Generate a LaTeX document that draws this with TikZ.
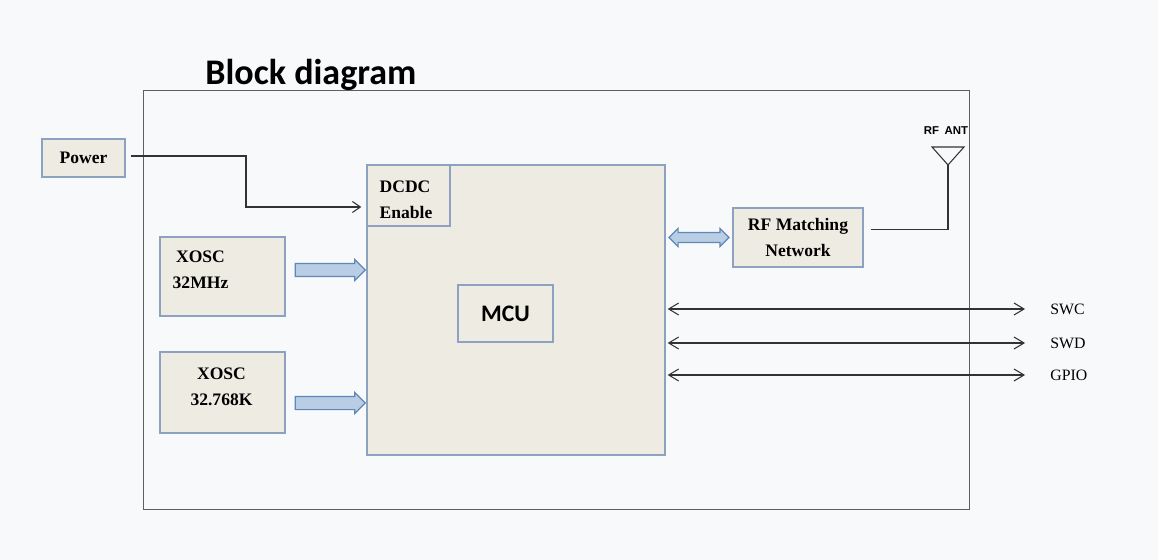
\documentclass[tikz,border=0pt]{standalone}
\usepackage{fontspec}
\setmainfont{Liberation Serif}
\newfontfamily\calibri{Carlito}
\newfontfamily\arial{Liberation Sans}
\usetikzlibrary{positioning,calc,shapes.arrows,arrows.meta}
\definecolor{boxfill}{RGB}{238,236,226}
\definecolor{boxline}{RGB}{140,162,192}
\definecolor{arrfill}{RGB}{185,205,229}
\definecolor{arrline}{RGB}{95,135,185}
\definecolor{bgcol}{RGB}{248,249,250}
\definecolor{framecol}{RGB}{95,95,95}
\def \Px {0.02cm}
\tikzstyle{block}=[
  draw=boxline,
  fill=boxfill,
  line width=0.8pt,
  inner sep=0pt,
  font=\bfseries\fontsize{10}{15}\selectfont,
  align=center
]
\tikzstyle{lbl}=[
  inner sep=0pt,
  font=\bfseries\fontsize{10}{15}\selectfont
]
\tikzstyle{fat}=[
  single arrow,
  draw=arrline,
  fill=arrfill,
  line width=0.7pt,
  inner sep=0pt,
  text height=0.24cm,
  text depth=0pt,
  minimum height=1.4cm,
  minimum width=0.4cm,
  single arrow head extend=0.08cm,
  single arrow head indent=0pt
]
\tikzstyle{fatboth}=[
  double arrow,
  draw=arrline,
  fill=arrfill,
  line width=0.7pt,
  inner sep=0pt,
  text height=0.18cm,
  text depth=0pt,
  minimum height=1.2cm,
  minimum width=0.34cm,
  double arrow head extend=0.08cm,
  double arrow head indent=0pt
]
\tikzstyle{wire}=[draw=black!80, line width=0.6pt]
\tikzstyle{pwr}=[-{Straight Barb[length=0.16cm,width=0.22cm]}]
\tikzstyle{sig}=[{Straight Barb[length=0.2cm,width=0.24cm]}-{Straight Barb[length=0.2cm,width=0.24cm]}]

\begin{document}
\begin{tikzpicture}[x=\Px, y=-\Px]
  \fill[bgcol] (0,0) rectangle (1158,560);
  \useasboundingbox (0,0) rectangle (1158,560);

  % board frame and title
  \node[draw=framecol, line width=0.6pt, inner sep=0pt,
        minimum width=16.54cm, minimum height=8.4cm] (board) at (556.5,300) {};
  \node[anchor=base west, inner sep=0pt,
        font=\calibri\bfseries\fontsize{20.5}{24}\selectfont] (title) at (205,85) {Block diagram};

  % blocks
  \node[block, minimum width=1.66cm, minimum height=0.76cm] (power) at (83.5,158) {Power};
  \node[block, minimum width=5.96cm, minimum height=5.8cm] (mcu) at (516,310) {};
  \node[block, minimum width=1.66cm, minimum height=1.22cm] (dcdc) at (408.5,195.5) {};
  \node[lbl, anchor=west, align=left] (dcdctxt) at ([shift={(13,4)}]dcdc.west) {DCDC\\Enable};
  \node[block, minimum width=1.9cm, minimum height=1.14cm,
        font=\calibri\bfseries\fontsize{13.5}{16}\selectfont] (core) at (505.5,313.5) {MCU};
  \node[block, minimum width=2.5cm, minimum height=1.58cm] (xa) at (222.5,276.5) {};
  \node[lbl, align=center] (xatxt) at ([shift={(-22,-7)}]xa.center) {XOSC\\32MHz};
  \node[block, minimum width=2.5cm, minimum height=1.62cm] (xb) at (222.5,392.5) {};
  \node[lbl, align=center] (xbtxt) at ([shift={(-1,-6)}]xb.center) {XOSC\\32.768K};
  \node[block, minimum width=2.6cm, minimum height=1.18cm] (rf) at (798,237.5) {RF Matching\\Network};

  % fat arrows
  \node[fat] (fa) at (327,270) {};
  \node[fat] (fb) at (327,403) {};
  \node[fatboth] (fc) at ($(mcu.east |- rf)!0.5!(rf.west)$) {};

  % power to DCDC
  \coordinate (pbend) at (246,207);
  \draw[wire, pwr, shorten <=0.1cm, shorten >=0.1cm]
    ([yshift=0.04cm]power.east) -| (pbend) -- (pbend -| mcu.west);

  % antenna
  \coordinate (ant) at (948,165);
  \draw[wire] ([shift={(7,-8)}]rf.east) -| (ant);
  \draw[wire] (ant) -- ++(-16,-18) -- ++(32,0) -- cycle;
  \node[inner sep=0pt, font=\arial\bfseries\fontsize{6.5}{8}\selectfont] (antlbl) at (946,131) {RF\enspace ANT};

  % debug and io lines
  \foreach \name/\y in {SWC/309, SWD/343, GPIO/375}{
    \node[anchor=west, inner sep=0pt, font=\fontsize{9}{11}\selectfont] (\name) at (1050,\y) {\name};
    \draw[wire, sig, shorten <=0.04cm] (mcu.east |- \name) -- ([xshift=-0.5cm]\name.west);
  }
\end{tikzpicture}
\end{document}
